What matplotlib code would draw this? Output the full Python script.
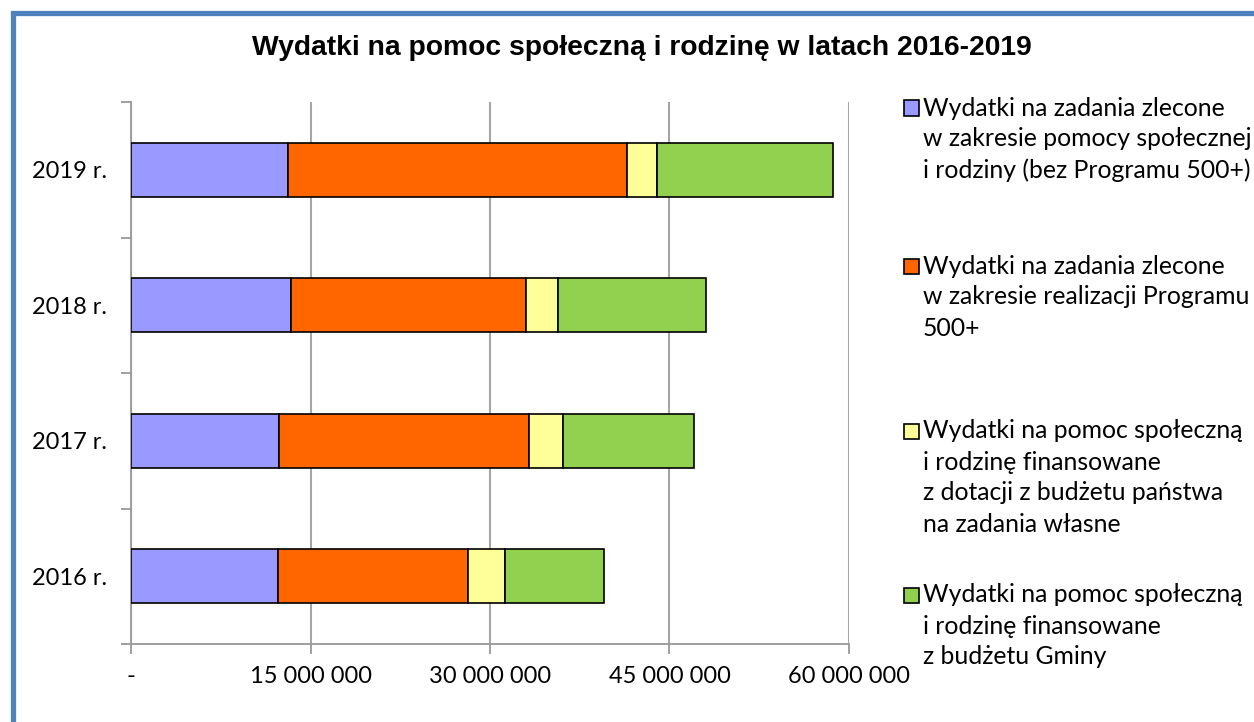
import matplotlib
matplotlib.use("Agg")
import matplotlib.pyplot as plt
from matplotlib.patches import Rectangle
import numpy as np

years = ["2016 r.", "2017 r.", "2018 r.", "2019 r."]
# values in PLN
zlecone = [12.31e6, 12.39e6, 13.37e6, 13.12e6]
program500 = [15.85e6, 20.84e6, 19.64e6, 28.30e6]
dotacje = [3.12e6, 2.90e6, 2.64e6, 2.51e6]
gmina = [8.25e6, 10.92e6, 12.37e6, 14.76e6]

labels = [
    "Wydatki na zadania zlecone\nw zakresie pomocy społecznej\ni rodziny (bez Programu 500+)",
    "Wydatki na zadania zlecone\nw zakresie realizacji Programu\n500+",
    "Wydatki na pomoc społeczną\ni rodzinę finansowane\nz dotacji z budżetu państwa\nna zadania własne",
    "Wydatki na pomoc społeczną\ni rodzinę finansowane\nz budżetu Gminy",
]
colors = ["#9999FF", "#FF6600", "#FFFF99", "#92D050"]
xticks = [0, 15e6, 30e6, 45e6, 60e6]
xticklabels = ["-", "15 000 000", "30 000 000", "45 000 000", "60 000 000"]

W, H = 1254, 722
fig = plt.figure(figsize=(W / 100, H / 100), dpi=100)
plt.rcParams['font.family'] = ['Lato', 'DejaVu Sans']

ax = fig.add_axes([131 / W, 1 - 644 / H, (849 - 131) / W, (644 - 102) / H])

y = np.arange(len(years))
left = np.zeros(len(years))
for vals, c in zip([zlecone, program500, dotacje, gmina], colors):
    ax.barh(y, vals, left=left, height=0.4, color=c, edgecolor="black",
            linewidth=1.2, zorder=3)
    left += np.array(vals)

ax.set_xlim(0, 60e6)
ax.set_ylim(-0.5, 3.5)
ax.set_xticks(xticks)
ax.set_xticklabels(xticklabels, fontsize=17)
ax.set_yticks(y)
ax.set_yticklabels(years, fontsize=17)
ax.set_yticks(np.arange(-0.5, 4, 1), minor=True)
ax.tick_params(axis="y", which="major", length=0, pad=17)
ax.tick_params(axis="y", which="minor", length=7, width=1.3, color="#999999")
ax.tick_params(axis="x", length=7, width=1.3, color="#999999", pad=9)
ax.grid(axis="x", color="#A6A6A6", linewidth=1.5, zorder=0)
for s in ["top", "right"]:
    ax.spines[s].set_visible(False)
for s in ["left", "bottom"]:
    ax.spines[s].set_color("#999999")
    ax.spines[s].set_linewidth(1.3)

fig.text(642 / W, 1 - 48 / H, "Wydatki na pomoc społeczną i rodzinę w latach 2016-2019",
         ha="center", va="center", fontsize=20.3, fontweight="bold",
         family=["Liberation Sans", "DejaVu Sans"])

# legend drawn by hand so the entries are spread evenly like in the original
entry_y = [108, 266, 431, 595]
line_h = 31
for lab, c, ey in zip(labels, colors, entry_y):
    fig.patches.append(Rectangle((904 / W, 1 - (ey + 7.5) / H), 15 / W, 15 / H,
                                 transform=fig.transFigure, facecolor=c,
                                 edgecolor="black", linewidth=1.2))
    for k, line in enumerate(lab.split("\n")):
        fig.text(923 / W, 1 - (ey + k * line_h) / H, line, ha="left", va="center",
                 fontsize=17.8)

# blue frame of the chart area
fig.patches.append(Rectangle((12.5 / W, -0.1), 1.2, 1 - 12.5 / H + 0.1,
                             transform=fig.transFigure, fill=False,
                             edgecolor="#4F81BD", linewidth=3.8))

fig.savefig("out.png", dpi=100)
